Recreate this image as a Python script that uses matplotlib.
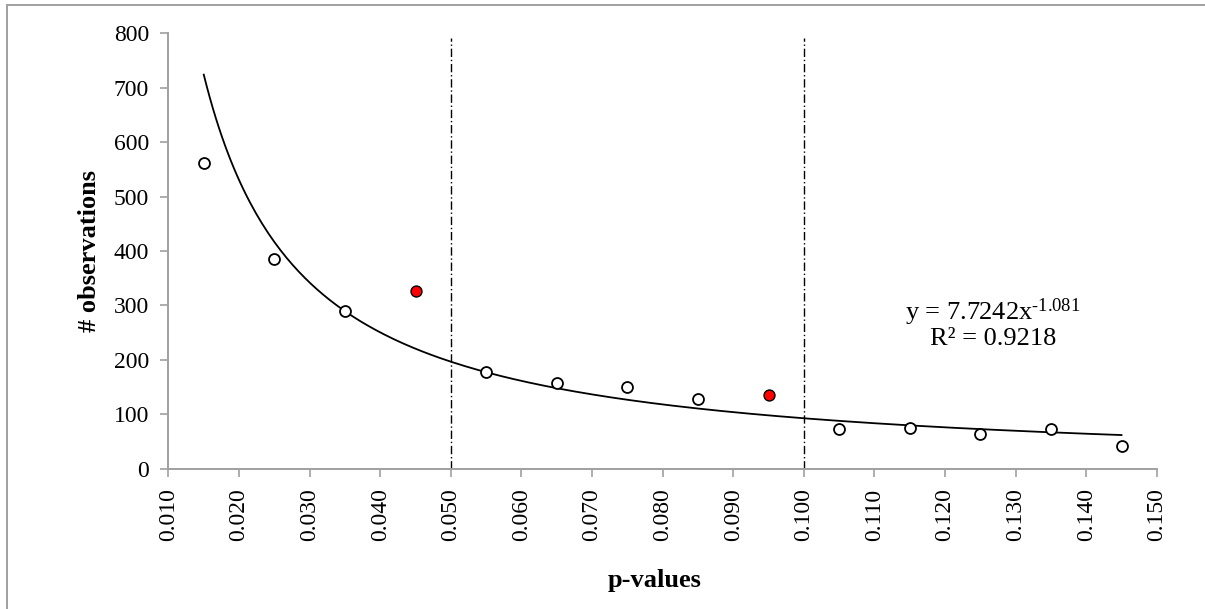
import matplotlib
matplotlib.use("Agg")
import matplotlib.pyplot as plt
import numpy as np
from matplotlib.lines import Line2D

plt.rcParams['font.family'] = ['Liberation Serif', 'DejaVu Serif']
plt.rcParams['mathtext.fontset'] = 'custom'
plt.rcParams['mathtext.rm'] = 'Liberation Serif'
plt.rcParams['mathtext.it'] = 'Liberation Serif:italic'

# Data
p_values = [0.015, 0.025, 0.035, 0.045, 0.055, 0.065, 0.075, 0.085, 0.095,
            0.105, 0.115, 0.125, 0.135, 0.145]
observations = [561, 386, 290, 326, 178, 157, 150, 128, 136, 74, 75, 64, 73, 43]
highlighted = [False, False, False, True, False, False, False, False, True,
               False, False, False, False, False]
fit_a = 7.7242
fit_b = -1.081
r_squared = 0.9218
thresholds = [0.05, 0.10]
x_ticks = [0.010, 0.020, 0.030, 0.040, 0.050, 0.060, 0.070, 0.080, 0.090,
           0.100, 0.110, 0.120, 0.130, 0.140, 0.150]
y_ticks = [0, 100, 200, 300, 400, 500, 600, 700, 800]

fig = plt.figure(figsize=(12.05, 6.09), dpi=100)
ax = fig.add_axes([0.1398, 0.2299, 0.960 - 0.1398, 0.9458 - 0.2299])

gray = '#a0a0a0'
# threshold lines
for t in thresholds:
    ax.plot([t, t], [0, 791], color='black', linestyle=(0, (6, 2, 1, 2)),
            linewidth=1.0, zorder=2)

# trend line
xs = np.linspace(p_values[0], p_values[-1], 300)
ax.plot(xs, fit_a * xs ** fit_b, color='black', linewidth=1.3, zorder=3)

# points
px = np.array(p_values)
py = np.array(observations)
hl = np.array(highlighted)
ax.scatter(px[~hl], py[~hl], s=62, facecolors='white', edgecolors='black',
           linewidths=1.3, zorder=4)
ax.scatter(px[hl], py[hl], s=62, facecolors='#ff0000', edgecolors='black',
           linewidths=1.0, zorder=4)

ax.set_xlim(0.010, 0.150)
ax.set_ylim(0, 800)
ax.set_xticks(x_ticks)
ax.set_xticklabels([f"{v:.3f}" for v in x_ticks], rotation=90)
ax.set_yticks(y_ticks)
ax.set_yticklabels([str(v) for v in y_ticks])
ax.tick_params(axis='both', labelsize=17, colors=gray, labelcolor='black',
               length=6, width=1.2, direction='out')
ax.tick_params(axis='x', pad=8)
ax.tick_params(axis='y', pad=8)
for s in ['top', 'right']:
    ax.spines[s].set_visible(False)
for s in ['left', 'bottom']:
    ax.spines[s].set_color(gray)
    ax.spines[s].set_linewidth(1.4)

fig.text(655 / 1205, 1 - 581 / 609, 'p-values', fontsize=19, fontweight='bold',
         ha='center', va='center')
fig.text(90 / 1205, 1 - 251 / 609, '# observations', fontsize=19, fontweight='bold',
         ha='center', va='center', rotation=90)

fig.text(993 / 1205, 1 - 312 / 609,
         r"y = 7.7242x$^{\text{-1.081}}$", ha='center', va='center', fontsize=19)
fig.text(993 / 1205, 1 - 339 / 609, f"R\u00b2 = {r_squared}", ha='center',
         va='center', fontsize=19)

# figure border (left and top visible)
fig.add_artist(Line2D([6.5 / 1205, 6.5 / 1205], [0, 1 - 4.5 / 609], transform=fig.transFigure,
                      color='#a0a0a0', linewidth=1.4))
fig.add_artist(Line2D([6.5 / 1205, 1], [1 - 4.5 / 609, 1 - 4.5 / 609], transform=fig.transFigure,
                      color='#a0a0a0', linewidth=1.4))

fig.savefig('out.png', dpi=100)
